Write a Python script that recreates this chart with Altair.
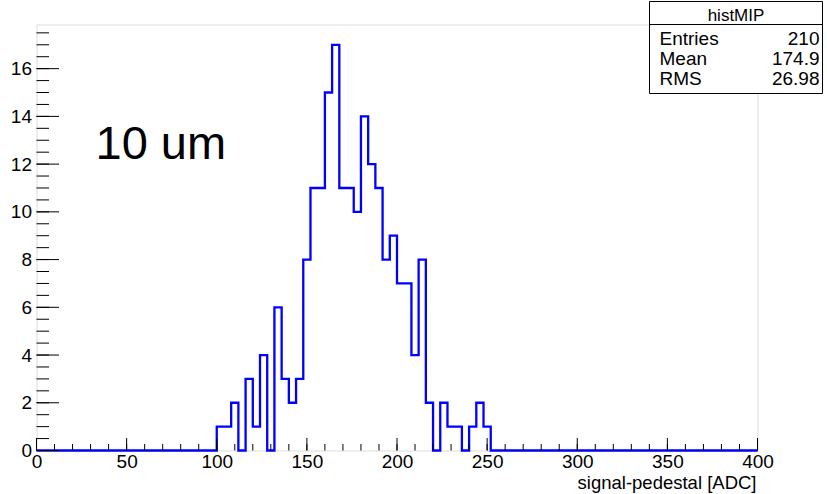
import altair as alt
import pandas as pd

# ---- data ----
bin_width = 4
x_min, x_max = 0, 400
first_filled_bin = 100          # left edge of first non-empty region
counts = [1, 1, 2, 0, 3, 1, 4, 0, 6, 3, 2, 3, 8, 11, 11, 15, 17, 11, 11, 10,
          14, 12, 11, 8, 9, 7, 7, 4, 8, 2, 0, 2, 1, 1, 0, 1, 2, 1]
y_max = 17.85

stat_title = "histMIP"
stat_names = ["Entries", "Mean", "RMS"]
stat_values = ["210", "174.9", "26.98"]
annotation = "10 um"
x_title = "signal-pedestal [ADC]"

x_label_values = [0, 50, 100, 150, 200, 250, 300, 350, 400]
y_label_values = [0, 2, 4, 6, 8, 10, 12, 14, 16]
x_minor_step = 10
y_minor_step = 0.5

# ---- build tables ----
n_bins = (x_max - x_min) // bin_width
start = (first_filled_bin - x_min) // bin_width
full = [0] * n_bins
for i, c in enumerate(counts):
    full[start + i] = c
edges = [x_min + i * bin_width for i in range(n_bins + 1)]
hist_df = pd.DataFrame({"x": edges, "y": full + [full[-1]]})

x_major_df = pd.DataFrame({"x": x_label_values})
x_minor_df = pd.DataFrame({"x": [x_min + i * x_minor_step for i in range(int((x_max - x_min) / x_minor_step) + 1)]})
y_major_df = pd.DataFrame({"y": y_label_values})
y_minor_df = pd.DataFrame({"y": [i * y_minor_step for i in range(int(y_max / y_minor_step) + 1)]})

W, H = 721, 426
FONT = "Liberation Sans"

xs = alt.Scale(domain=[x_min, x_max], nice=False, zero=False)
ys = alt.Scale(domain=[0, y_max], nice=False, zero=True)

x_axis = alt.Axis(values=x_label_values, ticks=False, domain=False, grid=False,
                  labelFontSize=19, labelFont=FONT, labelColor="black",
                  labelPadding=2, labelFlush=False, labelOverlap=False,
                  labelBound=False, title=None, format="d")
y_axis = alt.Axis(values=y_label_values, ticks=False, domain=False, grid=False,
                  labelFontSize=19, labelFont=FONT, labelColor="black",
                  labelPadding=5, labelFlush=False, labelOverlap=False,
                  labelBound=False, title=None, format="d")

hist = alt.Chart(hist_df).mark_line(
    interpolate="step-after", color="#0000ff", strokeWidth=2.3, clip=False
).encode(
    x=alt.X("x:Q", scale=xs, axis=x_axis),
    y=alt.Y("y:Q", scale=ys, axis=y_axis),
)

def xticks(df, length):
    return alt.Chart(df).mark_rule(color="black", strokeWidth=1).encode(
        x=alt.X("x:Q", scale=xs, axis=x_axis),
        y=alt.value(H), y2=alt.value(H - length))

def yticks(df, length):
    return alt.Chart(df).mark_rule(color="black", strokeWidth=1).encode(
        y=alt.Y("y:Q", scale=ys, axis=y_axis),
        x=alt.value(0), x2=alt.value(length))

# stats box
box_x0, box_x1, box_y0, box_y1, head_y = 613, 786, -23, 69, 0
stat_df = pd.DataFrame({"name": stat_names, "value": stat_values})

box = alt.Chart(pd.DataFrame({"a": [0]})).mark_rect(
    fill="white", stroke="black", strokeWidth=1).encode(
    x=alt.value(box_x0), x2=alt.value(box_x1),
    y=alt.value(box_y0), y2=alt.value(box_y1))
sep = alt.Chart(pd.DataFrame({"a": [0]})).mark_rule(
    color="black", strokeWidth=1).encode(
    x=alt.value(box_x0), x2=alt.value(box_x1), y=alt.value(head_y))
head = alt.Chart(pd.DataFrame({"t": [stat_title]})).mark_text(
    font=FONT, fontSize=17, align="center", baseline="alphabetic",
    color="black").encode(
    x=alt.value((box_x0 + box_x1) / 2), y=alt.value(-4), text="t:N")

row_y = [20, 40.5, 60]
names = []
vals = []
for i in range(len(stat_names)):
    d = stat_df.iloc[[i]]
    names.append(alt.Chart(d).mark_text(
        font=FONT, fontSize=19, align="left", baseline="alphabetic",
        color="black").encode(x=alt.value(box_x0 + 10), y=alt.value(row_y[i]),
                              text="name:N"))
    vals.append(alt.Chart(d).mark_text(
        font=FONT, fontSize=19, align="right", baseline="alphabetic",
        color="black").encode(x=alt.value(box_x1 - 3), y=alt.value(row_y[i]),
                              text="value:N"))

ann = alt.Chart(pd.DataFrame({"t": [annotation]})).mark_text(
    font=FONT, fontSize=47, align="left", baseline="alphabetic",
    color="black").encode(x=alt.value(59), y=alt.value(134), text="t:N")

xt = alt.Chart(pd.DataFrame({"t": [x_title]})).mark_text(
    font=FONT, fontSize=18.5, align="right", baseline="alphabetic",
    color="black").encode(x=alt.value(W - 1), y=alt.value(H + 38), text="t:N")

chart = alt.layer(
    hist,
    xticks(x_minor_df, 6.5), xticks(x_major_df, 12.5),
    yticks(y_minor_df, 12.5), yticks(y_major_df, 22.5),
    box, sep, head, *names, *vals, ann, xt
).properties(
    width=W, height=H,
    autosize=alt.AutoSizeParams(type="none"),
    padding={"left": 36.5, "top": 24.5, "right": 827 - 36.5 - W, "bottom": 494 - 24.5 - H},
).configure_view(
    stroke="black", strokeWidth=1, fill="white"
).configure(background="white")

chart.save("out.html", embed_options={"renderer": "svg", "actions": False})
